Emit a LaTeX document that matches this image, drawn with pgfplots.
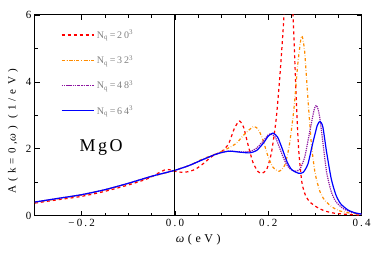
\documentclass[border=0pt]{standalone}
\usepackage{fontspec}
\setmainfont{Liberation Serif}
\newfontfamily\spA[LetterSpace=20]{Liberation Serif}
\newfontfamily\spB[LetterSpace=30]{Liberation Serif}
\newfontfamily\spC[LetterSpace=38]{Liberation Serif}
\newfontfamily\spD[LetterSpace=14]{Liberation Serif}
\usepackage{pgfplots}
\pgfplotsset{compat=1.18}
\definecolor{cred}{RGB}{255,0,0}
\definecolor{corange}{RGB}{255,140,0}
\definecolor{cpurple}{RGB}{140,20,160}
\definecolor{cblue}{RGB}{0,0,255}
\begin{document}
\begin{tikzpicture}
\begin{axis}[name=ax,
  scale only axis, width=327pt, height=201pt,
  xmin=-0.3, xmax=0.4, ymin=0, ymax=6,
  xtick={-0.2,0,0.2,0.4}, xticklabels={−0.2,0.0,0.2,0.4},
  ytick={0,2,4,6}, yticklabels={0,2,4,6},
  minor x tick num=3, minor y tick num=1,
  major tick length=5pt, minor tick length=3pt,
  tick style={black, line width=0.8pt},
  axis line style={line width=1pt},
  ticklabel style={font=\fontsize{11}{12}\spA},
  xlabel={\textit{ω}(eV)}, ylabel={{A(k{=}0,\textit{ω}) (1/eV)}},
  xlabel style={font=\fontsize{12}{13}\spB, yshift=-1pt},
  ylabel style={font=\fontsize{11}{12}\spC, at={(ticklabel cs:0.42)}, yshift=1pt},
  legend style={draw=none, fill=none, at={(rel axis cs:0.07,0.945)}, anchor=north west,
    font=\fontsize{10}{11}\spA, text=gray, row sep=11.5pt},
  legend cell align=left,
  legend image code/.code={\draw[mark repeat=2,mark phase=2,#1,line width=1.2pt] plot coordinates {(0cm,0cm) (1.15cm,0cm)};},
]
\addplot[cred, dashed, line width=1.2pt, smooth, tension=0.4] coordinates {
(-0.30,0.38) (-0.25,0.48) (-0.20,0.58) (-0.15,0.73) (-0.10,0.92) (-0.06,1.10)
(-0.035,1.28) (-0.02,1.38) (-0.01,1.37) (0.00,1.33) (0.015,1.30) (0.03,1.32)
(0.045,1.40) (0.06,1.55) (0.08,1.78) (0.10,1.92) (0.115,2.15) (0.127,2.60)
(0.138,2.83) (0.147,2.65) (0.157,2.10) (0.167,1.60) (0.178,1.32) (0.187,1.27)
(0.197,1.40) (0.207,1.90) (0.217,2.90) (0.225,4.20) (0.232,5.60) (0.238,7.00)
(0.245,8.00) (0.25,7.00) (0.255,5.30) (0.26,3.50) (0.265,2.00) (0.272,1.00)
(0.28,0.60) (0.29,0.40) (0.305,0.25) (0.32,0.15) (0.34,0.08) (0.37,0.04) (0.40,0.02)};
\addlegendentry{N\textsubscript{q}\,=\,20\textsuperscript{3}}
\addplot[corange, dash dot, line width=1.2pt, smooth, tension=0.4] coordinates {
(-0.30,0.40) (-0.25,0.51) (-0.20,0.62) (-0.15,0.77) (-0.10,0.96) (-0.05,1.17)
(0.00,1.36) (0.03,1.50) (0.06,1.70) (0.10,1.92) (0.13,2.15) (0.15,2.45)
(0.169,2.67) (0.18,2.55) (0.19,2.20) (0.20,1.75) (0.21,1.45) (0.223,1.33)
(0.235,1.50) (0.245,2.10) (0.255,3.20) (0.263,4.50) (0.27,5.30) (0.273,5.35)
(0.278,4.90) (0.285,3.50) (0.292,2.20) (0.30,1.30) (0.31,0.75) (0.32,0.48)
(0.335,0.28) (0.35,0.16) (0.37,0.09) (0.40,0.04)};
\addlegendentry{N\textsubscript{q}\,=\,32\textsuperscript{3}}
\addplot[cpurple, densely dotted, line width=1.2pt, smooth, tension=0.4] coordinates {
(-0.30,0.41) (-0.25,0.52) (-0.20,0.63) (-0.15,0.78) (-0.10,0.97) (-0.05,1.18)
(0.00,1.36) (0.03,1.50) (0.06,1.68) (0.09,1.85) (0.115,1.93) (0.14,1.91)
(0.16,1.92) (0.175,2.02) (0.19,2.25) (0.20,2.42) (0.205,2.45) (0.215,2.35)
(0.225,2.00) (0.235,1.65) (0.245,1.42) (0.258,1.33) (0.268,1.40) (0.278,1.75)
(0.288,2.45) (0.298,3.15) (0.303,3.30) (0.309,3.05) (0.317,2.20) (0.325,1.30)
(0.335,0.72) (0.345,0.42) (0.36,0.22) (0.375,0.12) (0.39,0.07) (0.40,0.05)};
\addlegendentry{N\textsubscript{q}\,=\,48\textsuperscript{3}}
\addplot[cblue, solid, line width=1.2pt, smooth, tension=0.4] coordinates {
(-0.30,0.41) (-0.25,0.52) (-0.20,0.63) (-0.15,0.78) (-0.10,0.97) (-0.05,1.18)
(0.00,1.36) (0.03,1.50) (0.06,1.68) (0.09,1.85) (0.115,1.93) (0.14,1.90)
(0.16,1.88) (0.175,1.95) (0.19,2.18) (0.20,2.38) (0.21,2.47) (0.22,2.35)
(0.23,2.00) (0.24,1.62) (0.25,1.38) (0.265,1.27) (0.275,1.30) (0.285,1.55)
(0.295,2.15) (0.305,2.70) (0.311,2.82) (0.317,2.65) (0.325,1.90) (0.335,1.10)
(0.345,0.62) (0.355,0.36) (0.37,0.18) (0.385,0.09) (0.40,0.05)};
\addlegendentry{N\textsubscript{q}\,=\,64\textsuperscript{3}}
\addplot[black, solid, line width=1pt, forget plot] coordinates {(0,0) (0,6)};
\node[font=\fontsize{18}{19}\spD] at (axis cs:-0.158,2.05) {MgO};
\end{axis}
\path ([shift={(-35pt,-47pt)}]ax.south west) rectangle ([shift={(12pt,15pt)}]ax.north east);
\end{tikzpicture}
\end{document}
